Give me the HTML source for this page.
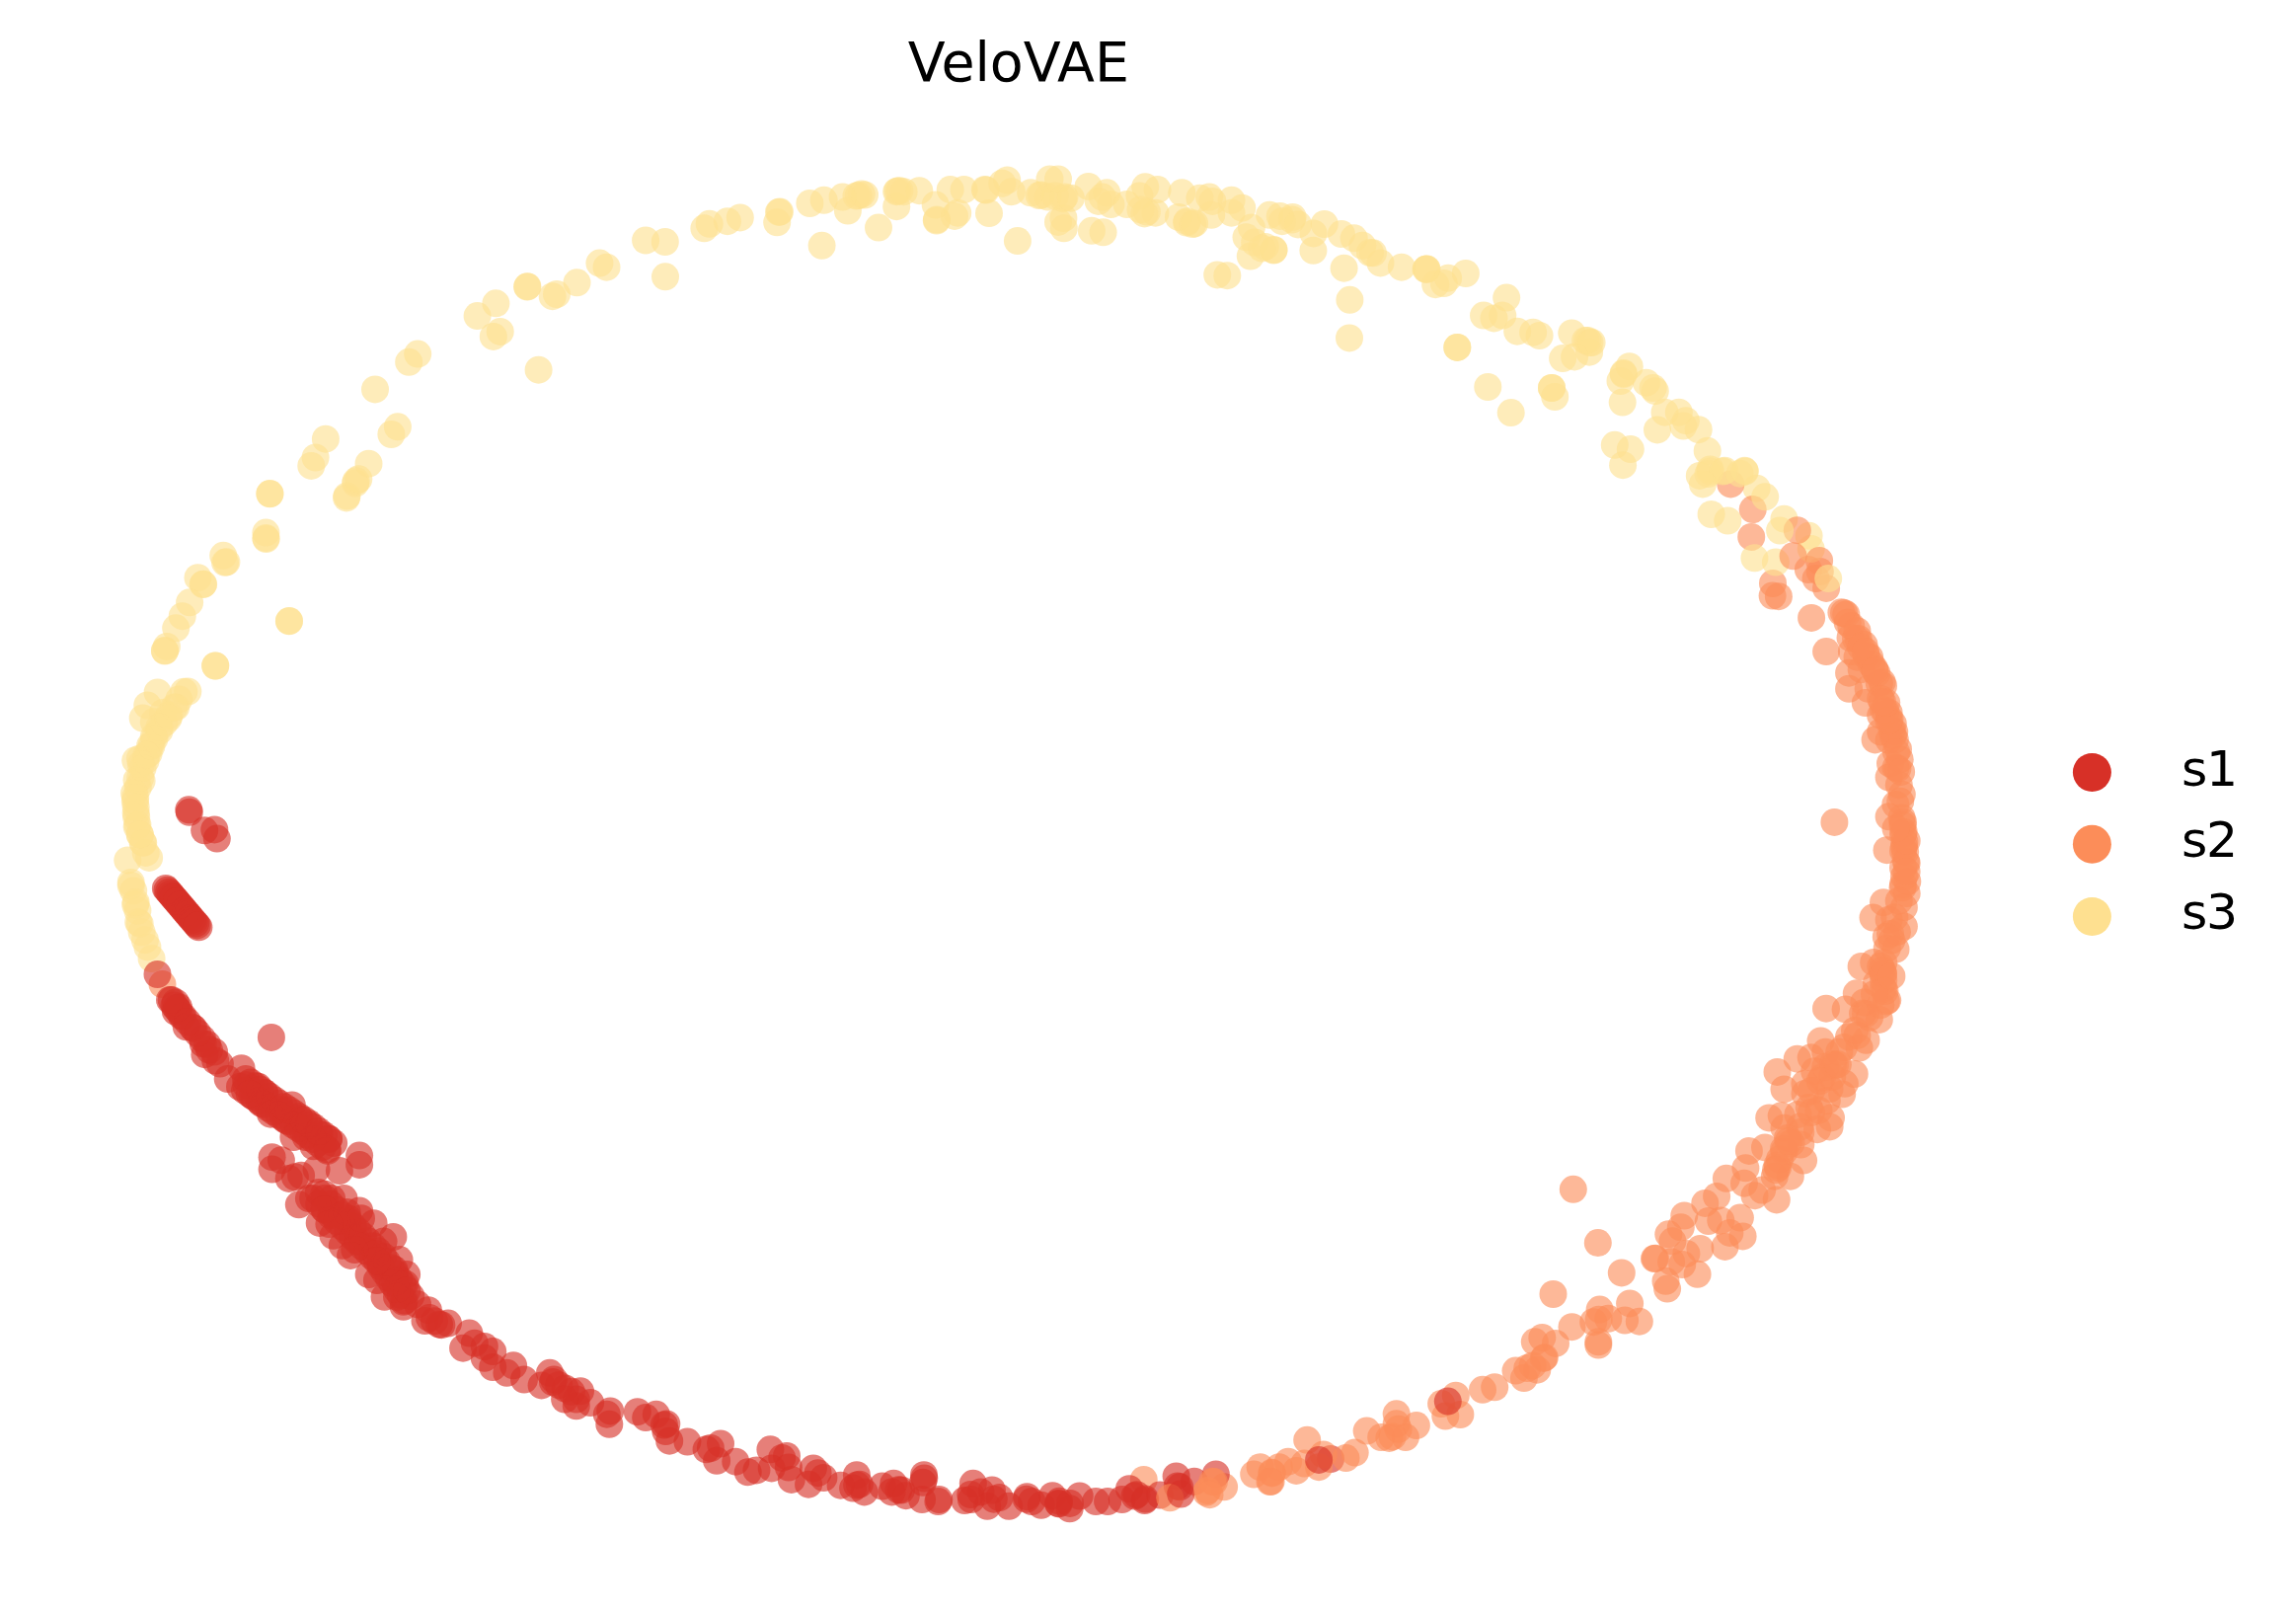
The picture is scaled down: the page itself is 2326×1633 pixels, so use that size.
<!DOCTYPE html>
<html><head><meta charset="utf-8"><title>VeloVAE</title>
<style>
html,body{margin:0;padding:0;background:#fff;}
body{width:2326px;height:1633px;overflow:hidden;position:relative;}
svg{position:absolute;left:0;top:0;}
.t{font-family:"DejaVu Sans","Liberation Sans",sans-serif;fill:#000;}
</style></head><body>
<svg width="2326" height="1633" viewBox="0 0 2326 1633">
<g fill-opacity="0.62">
<circle cx="149.4" cy="959.4" r="14.0" fill="#fee090"/>
<circle cx="153.6" cy="971.1" r="14.0" fill="#fee090"/>
<circle cx="146.9" cy="952.2" r="14.0" fill="#fee090"/>
<circle cx="164.5" cy="997.1" r="14.0" fill="#fc8d59"/>
<circle cx="1158.7" cy="1499.0" r="14.0" fill="#fc8d59"/>
<circle cx="311.9" cy="1149.9" r="14.0" fill="#d73027"/>
<circle cx="135.2" cy="902.4" r="14.0" fill="#fee090"/>
<circle cx="1924.7" cy="769.3" r="14.0" fill="#fc8d59"/>
<circle cx="1358.9" cy="237.1" r="14.0" fill="#fee090"/>
<circle cx="360.1" cy="489.6" r="14.0" fill="#fee090"/>
<circle cx="1928.0" cy="879.0" r="14.0" fill="#fc8d59"/>
<circle cx="1052.7" cy="198.1" r="14.0" fill="#fee090"/>
<circle cx="274.9" cy="1050.9" r="14.0" fill="#d73027"/>
<circle cx="1801.0" cy="1183.0" r="14.0" fill="#fc8d59"/>
<circle cx="1913.6" cy="721.9" r="14.0" fill="#fc8d59"/>
<circle cx="513.4" cy="1390.8" r="14.0" fill="#d73027"/>
<circle cx="352.6" cy="1234.2" r="14.0" fill="#d73027"/>
<circle cx="1779.6" cy="494.7" r="14.0" fill="#fee090"/>
<circle cx="1247.6" cy="202.8" r="14.0" fill="#fee090"/>
<circle cx="183.9" cy="918.7" r="14.0" fill="#d73027"/>
<circle cx="1797.8" cy="1191.7" r="14.0" fill="#fc8d59"/>
<circle cx="1855.0" cy="1132.4" r="14.0" fill="#fc8d59"/>
<circle cx="993.5" cy="1511.4" r="14.0" fill="#d73027"/>
<circle cx="1172.6" cy="192.1" r="14.0" fill="#fee090"/>
<circle cx="380.0" cy="394.4" r="14.0" fill="#fee090"/>
<circle cx="207.4" cy="1068.2" r="14.0" fill="#d73027"/>
<circle cx="1804.7" cy="1130.3" r="14.0" fill="#fc8d59"/>
<circle cx="178.2" cy="716.4" r="14.0" fill="#fee090"/>
<circle cx="409.7" cy="1317.5" r="14.0" fill="#d73027"/>
<circle cx="1072.0" cy="1522.9" r="14.0" fill="#d73027"/>
<circle cx="868.1" cy="1504.6" r="14.0" fill="#d73027"/>
<circle cx="1834.7" cy="1071.3" r="14.0" fill="#fc8d59"/>
<circle cx="312.9" cy="1214.1" r="14.0" fill="#d73027"/>
<circle cx="1209.9" cy="1500.8" r="14.0" fill="#d73027"/>
<circle cx="1693.1" cy="1278.2" r="14.0" fill="#fc8d59"/>
<circle cx="1125.5" cy="207.1" r="14.0" fill="#fee090"/>
<circle cx="1729.7" cy="456.8" r="14.0" fill="#fee090"/>
<circle cx="433.9" cy="1327.2" r="14.0" fill="#d73027"/>
<circle cx="1276.6" cy="1486.2" r="14.0" fill="#fc8d59"/>
<circle cx="1503.0" cy="319.6" r="14.0" fill="#fee090"/>
<circle cx="749.8" cy="220.4" r="14.0" fill="#fee090"/>
<circle cx="1650.7" cy="371.2" r="14.0" fill="#fee090"/>
<circle cx="1850.8" cy="1115.0" r="14.0" fill="#fc8d59"/>
<circle cx="1694.4" cy="1257.3" r="14.0" fill="#fc8d59"/>
<circle cx="1191.6" cy="1495.4" r="14.0" fill="#d73027"/>
<circle cx="864.1" cy="1507.6" r="14.0" fill="#d73027"/>
<circle cx="674.0" cy="280.3" r="14.0" fill="#fee090"/>
<circle cx="1030.9" cy="244.1" r="14.0" fill="#fee090"/>
<circle cx="136.9" cy="811.9" r="14.0" fill="#fee090"/>
<circle cx="207.2" cy="841.3" r="14.0" fill="#d73027"/>
<circle cx="1930.1" cy="863.0" r="14.0" fill="#fc8d59"/>
<circle cx="781.7" cy="1487.4" r="14.0" fill="#d73027"/>
<circle cx="1371.7" cy="241.3" r="14.0" fill="#fee090"/>
<circle cx="1348.0" cy="1478.0" r="14.0" fill="#d73027"/>
<circle cx="828.6" cy="1492.2" r="14.0" fill="#d73027"/>
<circle cx="1646.1" cy="1337.5" r="14.0" fill="#fc8d59"/>
<circle cx="385.3" cy="1280.3" r="14.0" fill="#d73027"/>
<circle cx="1159.6" cy="1520.1" r="14.0" fill="#d73027"/>
<circle cx="181.0" cy="1020.2" r="14.0" fill="#d73027"/>
<circle cx="1853.5" cy="1103.0" r="14.0" fill="#fc8d59"/>
<circle cx="268.4" cy="1107.3" r="14.0" fill="#d73027"/>
<circle cx="1807.0" cy="1163.8" r="14.0" fill="#fc8d59"/>
<circle cx="1651.8" cy="455.1" r="14.0" fill="#fee090"/>
<circle cx="335.2" cy="1231.3" r="14.0" fill="#d73027"/>
<circle cx="1800.5" cy="1180.5" r="14.0" fill="#fc8d59"/>
<circle cx="1002.0" cy="216.1" r="14.0" fill="#fee090"/>
<circle cx="1908.0" cy="695.0" r="14.0" fill="#fc8d59"/>
<circle cx="545.6" cy="374.7" r="14.0" fill="#fee090"/>
<circle cx="1796.0" cy="591.0" r="14.0" fill="#fc8d59"/>
<circle cx="908.2" cy="209.2" r="14.0" fill="#fee090"/>
<circle cx="1305.0" cy="1480.7" r="14.0" fill="#fc8d59"/>
<circle cx="908.2" cy="194.2" r="14.0" fill="#fee090"/>
<circle cx="317.5" cy="1161.3" r="14.0" fill="#d73027"/>
<circle cx="934.1" cy="1519.1" r="14.0" fill="#d73027"/>
<circle cx="910.4" cy="1509.3" r="14.0" fill="#d73027"/>
<circle cx="1462.8" cy="287.1" r="14.0" fill="#fee090"/>
<circle cx="423.0" cy="1321.3" r="14.0" fill="#d73027"/>
<circle cx="1040.4" cy="1516.2" r="14.0" fill="#d73027"/>
<circle cx="1788.0" cy="1162.4" r="14.0" fill="#fc8d59"/>
<circle cx="1831.9" cy="577.0" r="14.0" fill="#fc8d59"/>
<circle cx="137.2" cy="770.3" r="14.0" fill="#fee090"/>
<circle cx="423.2" cy="358.6" r="14.0" fill="#fee090"/>
<circle cx="1906.7" cy="691.0" r="14.0" fill="#fc8d59"/>
<circle cx="1054.9" cy="197.5" r="14.0" fill="#fee090"/>
<circle cx="757.7" cy="1491.3" r="14.0" fill="#d73027"/>
<circle cx="1869.6" cy="1022.4" r="14.0" fill="#fc8d59"/>
<circle cx="1928.9" cy="857.3" r="14.0" fill="#fc8d59"/>
<circle cx="1105.9" cy="233.8" r="14.0" fill="#fee090"/>
<circle cx="1739.1" cy="1211.9" r="14.0" fill="#fc8d59"/>
<circle cx="298.9" cy="1192.3" r="14.0" fill="#d73027"/>
<circle cx="318.1" cy="1142.1" r="14.0" fill="#d73027"/>
<circle cx="200.5" cy="585.2" r="14.0" fill="#fee090"/>
<circle cx="226.2" cy="562.8" r="14.0" fill="#fee090"/>
<circle cx="1839.6" cy="586.1" r="14.0" fill="#fc8d59"/>
<circle cx="389.5" cy="1313.8" r="14.0" fill="#d73027"/>
<circle cx="321.9" cy="1157.9" r="14.0" fill="#d73027"/>
<circle cx="1919.2" cy="741.4" r="14.0" fill="#fc8d59"/>
<circle cx="150.6" cy="763.2" r="14.0" fill="#fee090"/>
<circle cx="1170.5" cy="215.7" r="14.0" fill="#fee090"/>
<circle cx="1842.4" cy="1124.7" r="14.0" fill="#fc8d59"/>
<circle cx="618.2" cy="1429.4" r="14.0" fill="#d73027"/>
<circle cx="1916.6" cy="739.8" r="14.0" fill="#fc8d59"/>
<circle cx="1308.8" cy="222.5" r="14.0" fill="#fee090"/>
<circle cx="1313.2" cy="1489.9" r="14.0" fill="#fc8d59"/>
<circle cx="1266.8" cy="259.5" r="14.0" fill="#fee090"/>
<circle cx="1873.1" cy="697.8" r="14.0" fill="#fc8d59"/>
<circle cx="306.9" cy="1145.9" r="14.0" fill="#d73027"/>
<circle cx="534.1" cy="290.6" r="14.0" fill="#fee090"/>
<circle cx="598.1" cy="1421.0" r="14.0" fill="#d73027"/>
<circle cx="143.6" cy="791.0" r="14.0" fill="#fee090"/>
<circle cx="393.7" cy="1294.5" r="14.0" fill="#d73027"/>
<circle cx="1870.3" cy="622.4" r="14.0" fill="#fc8d59"/>
<circle cx="1878.7" cy="1088.0" r="14.0" fill="#fc8d59"/>
<circle cx="1894.0" cy="1030.8" r="14.0" fill="#fc8d59"/>
<circle cx="404.6" cy="1276.1" r="14.0" fill="#d73027"/>
<circle cx="1883.6" cy="1061.5" r="14.0" fill="#fc8d59"/>
<circle cx="1202.1" cy="225.5" r="14.0" fill="#fee090"/>
<circle cx="1240.1" cy="1506.3" r="14.0" fill="#fc8d59"/>
<circle cx="152.1" cy="755.5" r="14.0" fill="#fee090"/>
<circle cx="1502.0" cy="1407.8" r="14.0" fill="#fc8d59"/>
<circle cx="1093.7" cy="1515.5" r="14.0" fill="#d73027"/>
<circle cx="249.0" cy="1093.0" r="14.0" fill="#d73027"/>
<circle cx="696.4" cy="1460.6" r="14.0" fill="#d73027"/>
<circle cx="1141.6" cy="207.1" r="14.0" fill="#fee090"/>
<circle cx="1913.6" cy="931.7" r="14.0" fill="#fc8d59"/>
<circle cx="1887.0" cy="1026.6" r="14.0" fill="#fc8d59"/>
<circle cx="167.9" cy="899.9" r="14.0" fill="#d73027"/>
<circle cx="1923.0" cy="759.0" r="14.0" fill="#fc8d59"/>
<circle cx="257.6" cy="1111.7" r="14.0" fill="#d73027"/>
<circle cx="1846.0" cy="1091.5" r="14.0" fill="#fc8d59"/>
<circle cx="719.9" cy="1467.0" r="14.0" fill="#d73027"/>
<circle cx="139.7" cy="798.0" r="14.0" fill="#fee090"/>
<circle cx="1361.6" cy="271.7" r="14.0" fill="#fee090"/>
<circle cx="141.9" cy="768.4" r="14.0" fill="#fee090"/>
<circle cx="949.0" cy="222.5" r="14.0" fill="#fee090"/>
<circle cx="1922.4" cy="778.6" r="14.0" fill="#fc8d59"/>
<circle cx="217.3" cy="840.4" r="14.0" fill="#d73027"/>
<circle cx="292.2" cy="1136.2" r="14.0" fill="#d73027"/>
<circle cx="1915.0" cy="946.0" r="14.0" fill="#fc8d59"/>
<circle cx="337.5" cy="1251.8" r="14.0" fill="#d73027"/>
<circle cx="935.0" cy="1501.8" r="14.0" fill="#d73027"/>
<circle cx="797.0" cy="1475.0" r="14.0" fill="#d73027"/>
<circle cx="1006.8" cy="1518.7" r="14.0" fill="#d73027"/>
<circle cx="1573.5" cy="1311.0" r="14.0" fill="#fc8d59"/>
<circle cx="1925.2" cy="811.8" r="14.0" fill="#fc8d59"/>
<circle cx="142.1" cy="788.0" r="14.0" fill="#fee090"/>
<circle cx="1444.5" cy="272.8" r="14.0" fill="#fee090"/>
<circle cx="962.7" cy="192.1" r="14.0" fill="#fee090"/>
<circle cx="1363.5" cy="1477.1" r="14.0" fill="#fc8d59"/>
<circle cx="1643.7" cy="407.6" r="14.0" fill="#fee090"/>
<circle cx="1917.8" cy="733.1" r="14.0" fill="#fc8d59"/>
<circle cx="1686.5" cy="417.7" r="14.0" fill="#fee090"/>
<circle cx="144.6" cy="853.5" r="14.0" fill="#fee090"/>
<circle cx="186.3" cy="700.7" r="14.0" fill="#fee090"/>
<circle cx="1221.8" cy="1511.8" r="14.0" fill="#fc8d59"/>
<circle cx="1912.2" cy="1013.3" r="14.0" fill="#fc8d59"/>
<circle cx="1012.6" cy="1517.1" r="14.0" fill="#d73027"/>
<circle cx="1732.5" cy="475.4" r="14.0" fill="#fee090"/>
<circle cx="1843.8" cy="579.1" r="14.0" fill="#fc8d59"/>
<circle cx="454.0" cy="1340.6" r="14.0" fill="#d73027"/>
<circle cx="499.2" cy="1369.1" r="14.0" fill="#d73027"/>
<circle cx="1309.6" cy="219.9" r="14.0" fill="#fee090"/>
<circle cx="1194.0" cy="219.9" r="14.0" fill="#fee090"/>
<circle cx="400.3" cy="1290.0" r="14.0" fill="#d73027"/>
<circle cx="138.5" cy="790.2" r="14.0" fill="#fee090"/>
<circle cx="172.7" cy="905.5" r="14.0" fill="#d73027"/>
<circle cx="261.7" cy="1100.8" r="14.0" fill="#d73027"/>
<circle cx="997.8" cy="192.0" r="14.0" fill="#fee090"/>
<circle cx="1722.4" cy="1265.0" r="14.0" fill="#fc8d59"/>
<circle cx="396.4" cy="440.0" r="14.0" fill="#fee090"/>
<circle cx="181.0" cy="1024.0" r="14.0" fill="#d73027"/>
<circle cx="1054.8" cy="1524.8" r="14.0" fill="#d73027"/>
<circle cx="1281.8" cy="249.9" r="14.0" fill="#fee090"/>
<circle cx="490.8" cy="1375.8" r="14.0" fill="#d73027"/>
<circle cx="869.8" cy="198.1" r="14.0" fill="#fee090"/>
<circle cx="673.8" cy="245.0" r="14.0" fill="#fee090"/>
<circle cx="191.8" cy="822.8" r="14.0" fill="#d73027"/>
<circle cx="1286.1" cy="217.8" r="14.0" fill="#fee090"/>
<circle cx="1635.8" cy="450.8" r="14.0" fill="#fee090"/>
<circle cx="137.2" cy="807.9" r="14.0" fill="#fee090"/>
<circle cx="1868.0" cy="621.0" r="14.0" fill="#fc8d59"/>
<circle cx="1927.5" cy="899.2" r="14.0" fill="#fc8d59"/>
<circle cx="1856.2" cy="1091.0" r="14.0" fill="#fc8d59"/>
<circle cx="351.5" cy="502.5" r="14.0" fill="#fee090"/>
<circle cx="132.7" cy="894.0" r="14.0" fill="#fee090"/>
<circle cx="1928.0" cy="833.0" r="14.0" fill="#fc8d59"/>
<circle cx="184.1" cy="1029.5" r="14.0" fill="#d73027"/>
<circle cx="191.8" cy="928.0" r="14.0" fill="#d73027"/>
<circle cx="357.8" cy="1242.2" r="14.0" fill="#d73027"/>
<circle cx="253.8" cy="1096.5" r="14.0" fill="#d73027"/>
<circle cx="1464.3" cy="1434.6" r="14.0" fill="#fc8d59"/>
<circle cx="1641.5" cy="386.0" r="14.0" fill="#fee090"/>
<circle cx="1844.5" cy="1054.5" r="14.0" fill="#fc8d59"/>
<circle cx="1707.9" cy="426.2" r="14.0" fill="#fee090"/>
<circle cx="1149.5" cy="1515.5" r="14.0" fill="#d73027"/>
<circle cx="1747.5" cy="1262.9" r="14.0" fill="#fc8d59"/>
<circle cx="328.1" cy="1150.1" r="14.0" fill="#d73027"/>
<circle cx="1228.3" cy="203.9" r="14.0" fill="#fee090"/>
<circle cx="480.8" cy="1360.7" r="14.0" fill="#d73027"/>
<circle cx="1667.9" cy="387.7" r="14.0" fill="#fee090"/>
<circle cx="1911.5" cy="861.2" r="14.0" fill="#fc8d59"/>
<circle cx="1136.7" cy="1519.1" r="14.0" fill="#d73027"/>
<circle cx="1192.8" cy="1505.5" r="14.0" fill="#d73027"/>
<circle cx="247.9" cy="1104.6" r="14.0" fill="#d73027"/>
<circle cx="1921.9" cy="944.2" r="14.0" fill="#fc8d59"/>
<circle cx="745.3" cy="1480.7" r="14.0" fill="#d73027"/>
<circle cx="867.5" cy="198.5" r="14.0" fill="#fee090"/>
<circle cx="289.6" cy="1134.9" r="14.0" fill="#d73027"/>
<circle cx="147.6" cy="770.6" r="14.0" fill="#fee090"/>
<circle cx="388.3" cy="1272.7" r="14.0" fill="#d73027"/>
<circle cx="1750.3" cy="527.5" r="14.0" fill="#fee090"/>
<circle cx="1832.7" cy="1121.9" r="14.0" fill="#fc8d59"/>
<circle cx="381.9" cy="1297.0" r="14.0" fill="#d73027"/>
<circle cx="1927.5" cy="835.7" r="14.0" fill="#fc8d59"/>
<circle cx="1871.7" cy="630.8" r="14.0" fill="#fc8d59"/>
<circle cx="445.0" cy="1341.7" r="14.0" fill="#d73027"/>
<circle cx="1897.5" cy="929.6" r="14.0" fill="#fc8d59"/>
<circle cx="1835.1" cy="625.9" r="14.0" fill="#fc8d59"/>
<circle cx="1838.2" cy="1085.2" r="14.0" fill="#fc8d59"/>
<circle cx="909.4" cy="193.5" r="14.0" fill="#fee090"/>
<circle cx="1288.5" cy="1491.7" r="14.0" fill="#fc8d59"/>
<circle cx="1522.3" cy="319.6" r="14.0" fill="#fee090"/>
<circle cx="1850.0" cy="1021.7" r="14.0" fill="#fc8d59"/>
<circle cx="983.3" cy="1514.0" r="14.0" fill="#d73027"/>
<circle cx="201.4" cy="939.3" r="14.0" fill="#d73027"/>
<circle cx="1642.8" cy="1289.4" r="14.0" fill="#fc8d59"/>
<circle cx="1674.7" cy="393.0" r="14.0" fill="#fee090"/>
<circle cx="382.8" cy="1267.2" r="14.0" fill="#d73027"/>
<circle cx="372.8" cy="1257.2" r="14.0" fill="#d73027"/>
<circle cx="408.7" cy="1318.8" r="14.0" fill="#d73027"/>
<circle cx="1929.4" cy="853.0" r="14.0" fill="#fc8d59"/>
<circle cx="1910.8" cy="1014.5" r="14.0" fill="#fc8d59"/>
<circle cx="1905.2" cy="741.4" r="14.0" fill="#fc8d59"/>
<circle cx="1905.2" cy="724.7" r="14.0" fill="#fc8d59"/>
<circle cx="1073.1" cy="1520.7" r="14.0" fill="#d73027"/>
<circle cx="1849.3" cy="1081.0" r="14.0" fill="#fc8d59"/>
<circle cx="1916.4" cy="952.6" r="14.0" fill="#fc8d59"/>
<circle cx="1932.3" cy="893.0" r="14.0" fill="#fc8d59"/>
<circle cx="1151.5" cy="1514.2" r="14.0" fill="#d73027"/>
<circle cx="1367.0" cy="342.4" r="14.0" fill="#fee090"/>
<circle cx="1881.5" cy="665.7" r="14.0" fill="#fc8d59"/>
<circle cx="1267.9" cy="230.6" r="14.0" fill="#fee090"/>
<circle cx="303.6" cy="1133.4" r="14.0" fill="#d73027"/>
<circle cx="1917.8" cy="745.2" r="14.0" fill="#fc8d59"/>
<circle cx="389.7" cy="1288.8" r="14.0" fill="#d73027"/>
<circle cx="674.4" cy="1450.1" r="14.0" fill="#d73027"/>
<circle cx="1885.6" cy="979.1" r="14.0" fill="#fc8d59"/>
<circle cx="1835.0" cy="1127.0" r="14.0" fill="#fc8d59"/>
<circle cx="654.1" cy="243.5" r="14.0" fill="#fee090"/>
<circle cx="338.1" cy="1158.1" r="14.0" fill="#d73027"/>
<circle cx="654.2" cy="1436.1" r="14.0" fill="#d73027"/>
<circle cx="936.3" cy="1497.6" r="14.0" fill="#d73027"/>
<circle cx="198.2" cy="935.5" r="14.0" fill="#d73027"/>
<circle cx="1398.5" cy="266.4" r="14.0" fill="#fee090"/>
<circle cx="718.7" cy="226.8" r="14.0" fill="#fee090"/>
<circle cx="1928.0" cy="862.0" r="14.0" fill="#fc8d59"/>
<circle cx="1753.3" cy="490.4" r="14.0" fill="#fc8d59"/>
<circle cx="559.7" cy="300.2" r="14.0" fill="#fee090"/>
<circle cx="1824.3" cy="1159.6" r="14.0" fill="#fc8d59"/>
<circle cx="352.8" cy="1237.2" r="14.0" fill="#d73027"/>
<circle cx="352.2" cy="1247.8" r="14.0" fill="#d73027"/>
<circle cx="168.9" cy="654.9" r="14.0" fill="#fee090"/>
<circle cx="1061.8" cy="199.6" r="14.0" fill="#fee090"/>
<circle cx="1832.6" cy="542.8" r="14.0" fill="#fee090"/>
<circle cx="180.7" cy="914.9" r="14.0" fill="#d73027"/>
<circle cx="297.8" cy="1127.8" r="14.0" fill="#d73027"/>
<circle cx="1195.2" cy="1506.3" r="14.0" fill="#d73027"/>
<circle cx="1888.4" cy="1015.4" r="14.0" fill="#fc8d59"/>
<circle cx="346.8" cy="1261.8" r="14.0" fill="#d73027"/>
<circle cx="210.0" cy="1058.0" r="14.0" fill="#d73027"/>
<circle cx="1798.9" cy="569.6" r="14.0" fill="#fee090"/>
<circle cx="1775.7" cy="516.1" r="14.0" fill="#fc8d59"/>
<circle cx="1880.0" cy="647.0" r="14.0" fill="#fc8d59"/>
<circle cx="506.7" cy="335.9" r="14.0" fill="#fee090"/>
<circle cx="1774.2" cy="543.9" r="14.0" fill="#fc8d59"/>
<circle cx="1928.9" cy="919.1" r="14.0" fill="#fc8d59"/>
<circle cx="1801.9" cy="604.2" r="14.0" fill="#fc8d59"/>
<circle cx="475.4" cy="1350.6" r="14.0" fill="#d73027"/>
<circle cx="1644.1" cy="471.2" r="14.0" fill="#fee090"/>
<circle cx="267.9" cy="1107.0" r="14.0" fill="#d73027"/>
<circle cx="875.6" cy="1511.4" r="14.0" fill="#d73027"/>
<circle cx="1063.5" cy="181.4" r="14.0" fill="#fee090"/>
<circle cx="1899.0" cy="677.5" r="14.0" fill="#fc8d59"/>
<circle cx="1116.7" cy="199.6" r="14.0" fill="#fee090"/>
<circle cx="1290.5" cy="253.0" r="14.0" fill="#fee090"/>
<circle cx="1243.3" cy="279.2" r="14.0" fill="#fee090"/>
<circle cx="1388.0" cy="256.0" r="14.0" fill="#fee090"/>
<circle cx="1706.3" cy="1231.5" r="14.0" fill="#fc8d59"/>
<circle cx="1202.6" cy="224.2" r="14.0" fill="#fee090"/>
<circle cx="1677.0" cy="1274.8" r="14.0" fill="#fc8d59"/>
<circle cx="913.0" cy="1509.5" r="14.0" fill="#d73027"/>
<circle cx="1747.3" cy="476.8" r="14.0" fill="#fee090"/>
<circle cx="320.6" cy="1184.6" r="14.0" fill="#d73027"/>
<circle cx="1732.5" cy="477.6" r="14.0" fill="#fee090"/>
<circle cx="255.5" cy="1110.1" r="14.0" fill="#d73027"/>
<circle cx="404.3" cy="1295.7" r="14.0" fill="#d73027"/>
<circle cx="1592.3" cy="337.4" r="14.0" fill="#fee090"/>
<circle cx="309.8" cy="1152.0" r="14.0" fill="#d73027"/>
<circle cx="177.5" cy="911.2" r="14.0" fill="#d73027"/>
<circle cx="1926.6" cy="828.4" r="14.0" fill="#fc8d59"/>
<circle cx="1445.3" cy="272.5" r="14.0" fill="#fee090"/>
<circle cx="1651.1" cy="1320.4" r="14.0" fill="#fc8d59"/>
<circle cx="614.5" cy="270.7" r="14.0" fill="#fee090"/>
<circle cx="132.7" cy="897.1" r="14.0" fill="#fee090"/>
<circle cx="858.9" cy="213.5" r="14.0" fill="#fee090"/>
<circle cx="792.2" cy="1476.9" r="14.0" fill="#d73027"/>
<circle cx="520.1" cy="1383.3" r="14.0" fill="#d73027"/>
<circle cx="142.8" cy="774.1" r="14.0" fill="#fee090"/>
<circle cx="167.0" cy="659.6" r="14.0" fill="#fee090"/>
<circle cx="1930.9" cy="873.0" r="14.0" fill="#fc8d59"/>
<circle cx="405.7" cy="1311.8" r="14.0" fill="#d73027"/>
<circle cx="1875.3" cy="634.0" r="14.0" fill="#fc8d59"/>
<circle cx="388.6" cy="1257.6" r="14.0" fill="#d73027"/>
<circle cx="1295.8" cy="1486.2" r="14.0" fill="#fc8d59"/>
<circle cx="1676" cy="1275" r="14.0" fill="#fc8d59"/>
<circle cx="1514.2" cy="1405.3" r="14.0" fill="#fc8d59"/>
<circle cx="1733.6" cy="521.0" r="14.0" fill="#fee090"/>
<circle cx="675.3" cy="1442.4" r="14.0" fill="#d73027"/>
<circle cx="264.8" cy="1117.9" r="14.0" fill="#d73027"/>
<circle cx="469.1" cy="1365.7" r="14.0" fill="#d73027"/>
<circle cx="364.1" cy="1170.6" r="14.0" fill="#d73027"/>
<circle cx="1298.9" cy="224.2" r="14.0" fill="#fee090"/>
<circle cx="1928.0" cy="845.0" r="14.0" fill="#fc8d59"/>
<circle cx="362.2" cy="1257.8" r="14.0" fill="#d73027"/>
<circle cx="1610.5" cy="347.0" r="14.0" fill="#fee090"/>
<circle cx="377.2" cy="1272.8" r="14.0" fill="#d73027"/>
<circle cx="1721.8" cy="481.9" r="14.0" fill="#fee090"/>
<circle cx="430.5" cy="1338.1" r="14.0" fill="#d73027"/>
<circle cx="1576.0" cy="1360.9" r="14.0" fill="#fc8d59"/>
<circle cx="1928.7" cy="843.0" r="14.0" fill="#fc8d59"/>
<circle cx="1592.5" cy="1344.2" r="14.0" fill="#fc8d59"/>
<circle cx="1730.7" cy="1237.1" r="14.0" fill="#fc8d59"/>
<circle cx="412.1" cy="1291.1" r="14.0" fill="#d73027"/>
<circle cx="1700.8" cy="417.7" r="14.0" fill="#fee090"/>
<circle cx="385.7" cy="1283.0" r="14.0" fill="#d73027"/>
<circle cx="1454.2" cy="288.2" r="14.0" fill="#fee090"/>
<circle cx="410.4" cy="1300.4" r="14.0" fill="#d73027"/>
<circle cx="1849.3" cy="1065.7" r="14.0" fill="#fc8d59"/>
<circle cx="1777.5" cy="1211.2" r="14.0" fill="#fc8d59"/>
<circle cx="1160.2" cy="189.3" r="14.0" fill="#fee090"/>
<circle cx="1296.8" cy="218.9" r="14.0" fill="#fee090"/>
<circle cx="362.8" cy="1247.2" r="14.0" fill="#d73027"/>
<circle cx="185.4" cy="920.5" r="14.0" fill="#d73027"/>
<circle cx="1262.5" cy="240.3" r="14.0" fill="#fee090"/>
<circle cx="977.2" cy="1520.0" r="14.0" fill="#d73027"/>
<circle cx="145.2" cy="853.8" r="14.0" fill="#fee090"/>
<circle cx="872.8" cy="196.6" r="14.0" fill="#fee090"/>
<circle cx="1414.7" cy="1432.3" r="14.0" fill="#fc8d59"/>
<circle cx="399.5" cy="1286.1" r="14.0" fill="#d73027"/>
<circle cx="976.6" cy="192.1" r="14.0" fill="#fee090"/>
<circle cx="1225.1" cy="199.6" r="14.0" fill="#fee090"/>
<circle cx="1154.4" cy="198.5" r="14.0" fill="#fee090"/>
<circle cx="1908.0" cy="719.1" r="14.0" fill="#fc8d59"/>
<circle cx="1879.0" cy="1044.0" r="14.0" fill="#fc8d59"/>
<circle cx="1161.9" cy="214.6" r="14.0" fill="#fee090"/>
<circle cx="1880.8" cy="1006.3" r="14.0" fill="#fc8d59"/>
<circle cx="1414.7" cy="1442.3" r="14.0" fill="#fc8d59"/>
<circle cx="396.3" cy="1284.2" r="14.0" fill="#d73027"/>
<circle cx="1460.1" cy="1422.1" r="14.0" fill="#fc8d59"/>
<circle cx="1890.7" cy="664.3" r="14.0" fill="#fc8d59"/>
<circle cx="1159.4" cy="216.4" r="14.0" fill="#fee090"/>
<circle cx="397.7" cy="1300.3" r="14.0" fill="#d73027"/>
<circle cx="1913.6" cy="749.8" r="14.0" fill="#fc8d59"/>
<circle cx="1215.4" cy="200.7" r="14.0" fill="#fee090"/>
<circle cx="1899.6" cy="749.4" r="14.0" fill="#fc8d59"/>
<circle cx="1859.0" cy="1079.0" r="14.0" fill="#fc8d59"/>
<circle cx="1881.5" cy="1048.9" r="14.0" fill="#fc8d59"/>
<circle cx="1907.0" cy="983.0" r="14.0" fill="#fc8d59"/>
<circle cx="911.4" cy="193.2" r="14.0" fill="#fee090"/>
<circle cx="408.7" cy="1323.8" r="14.0" fill="#d73027"/>
<circle cx="222.9" cy="1077.6" r="14.0" fill="#d73027"/>
<circle cx="1850.1" cy="595.9" r="14.0" fill="#fc8d59"/>
<circle cx="174.3" cy="907.4" r="14.0" fill="#d73027"/>
<circle cx="1762.9" cy="1233.6" r="14.0" fill="#fc8d59"/>
<circle cx="1874.5" cy="646.1" r="14.0" fill="#fc8d59"/>
<circle cx="292.7" cy="1193.9" r="14.0" fill="#d73027"/>
<circle cx="1834.7" cy="556.1" r="14.0" fill="#fee090"/>
<circle cx="1340.7" cy="1473.4" r="14.0" fill="#fc8d59"/>
<circle cx="1708.4" cy="1269.9" r="14.0" fill="#fc8d59"/>
<circle cx="187.0" cy="922.4" r="14.0" fill="#d73027"/>
<circle cx="284.9" cy="1175.3" r="14.0" fill="#d73027"/>
<circle cx="302.8" cy="1220.3" r="14.0" fill="#d73027"/>
<circle cx="1175.1" cy="1514.6" r="14.0" fill="#d73027"/>
<circle cx="1730.6" cy="480.1" r="14.0" fill="#fee090"/>
<circle cx="876.0" cy="197.5" r="14.0" fill="#fee090"/>
<circle cx="1233.2" cy="278.4" r="14.0" fill="#fee090"/>
<circle cx="715.6" cy="1468.3" r="14.0" fill="#d73027"/>
<circle cx="548.6" cy="1403.4" r="14.0" fill="#d73027"/>
<circle cx="1792.2" cy="1132.4" r="14.0" fill="#fc8d59"/>
<circle cx="1608.4" cy="344.9" r="14.0" fill="#fee090"/>
<circle cx="1083.7" cy="1528.3" r="14.0" fill="#d73027"/>
<circle cx="1208.2" cy="227.1" r="14.0" fill="#fee090"/>
<circle cx="1144.0" cy="1508.2" r="14.0" fill="#d73027"/>
<circle cx="1821.5" cy="1128.9" r="14.0" fill="#fc8d59"/>
<circle cx="140.2" cy="934.2" r="14.0" fill="#fee090"/>
<circle cx="137.7" cy="823.7" r="14.0" fill="#fee090"/>
<circle cx="190.2" cy="926.2" r="14.0" fill="#d73027"/>
<circle cx="357.2" cy="1252.8" r="14.0" fill="#d73027"/>
<circle cx="1820.7" cy="1072.7" r="14.0" fill="#fc8d59"/>
<circle cx="870.8" cy="1503.7" r="14.0" fill="#d73027"/>
<circle cx="678.2" cy="1459.7" r="14.0" fill="#d73027"/>
<circle cx="273.4" cy="500.3" r="14.0" fill="#fee090"/>
<circle cx="1857.0" cy="1078.0" r="14.0" fill="#fc8d59"/>
<circle cx="1705.3" cy="431.6" r="14.0" fill="#fee090"/>
<circle cx="1748.9" cy="1193.8" r="14.0" fill="#fc8d59"/>
<circle cx="1676.8" cy="396.2" r="14.0" fill="#fee090"/>
<circle cx="1372.7" cy="1471.6" r="14.0" fill="#fc8d59"/>
<circle cx="1908.0" cy="1001.5" r="14.0" fill="#fc8d59"/>
<circle cx="340.8" cy="1225.5" r="14.0" fill="#d73027"/>
<circle cx="1044.2" cy="195.3" r="14.0" fill="#fee090"/>
<circle cx="169.5" cy="901.8" r="14.0" fill="#d73027"/>
<circle cx="588.0" cy="1409.3" r="14.0" fill="#d73027"/>
<circle cx="1816.6" cy="563.3" r="14.0" fill="#fc8d59"/>
<circle cx="319.6" cy="463.5" r="14.0" fill="#fee090"/>
<circle cx="177.9" cy="1024.8" r="14.0" fill="#d73027"/>
<circle cx="178.2" cy="636.3" r="14.0" fill="#fee090"/>
<circle cx="1564.8" cy="1375.2" r="14.0" fill="#fc8d59"/>
<circle cx="171.1" cy="903.7" r="14.0" fill="#d73027"/>
<circle cx="1000.2" cy="1525.8" r="14.0" fill="#d73027"/>
<circle cx="175.9" cy="909.3" r="14.0" fill="#d73027"/>
<circle cx="1914.5" cy="728.5" r="14.0" fill="#fc8d59"/>
<circle cx="398.4" cy="1253.0" r="14.0" fill="#d73027"/>
<circle cx="295.8" cy="1119.4" r="14.0" fill="#d73027"/>
<circle cx="205.7" cy="592.1" r="14.0" fill="#fee090"/>
<circle cx="1467.1" cy="281.7" r="14.0" fill="#fee090"/>
<circle cx="277.2" cy="1126.2" r="14.0" fill="#d73027"/>
<circle cx="1905.2" cy="979.1" r="14.0" fill="#fc8d59"/>
<circle cx="483.6" cy="320.1" r="14.0" fill="#fee090"/>
<circle cx="218.2" cy="1074.5" r="14.0" fill="#d73027"/>
<circle cx="284.9" cy="1124.1" r="14.0" fill="#d73027"/>
<circle cx="893.8" cy="1505.6" r="14.0" fill="#d73027"/>
<circle cx="149.3" cy="714.5" r="14.0" fill="#fee090"/>
<circle cx="1843.8" cy="1095.0" r="14.0" fill="#fc8d59"/>
<circle cx="1807.5" cy="1166.6" r="14.0" fill="#fc8d59"/>
<circle cx="273.4" cy="500.0" r="14.0" fill="#fee090"/>
<circle cx="1231.8" cy="1493.5" r="14.0" fill="#d73027"/>
<circle cx="1020.2" cy="182.5" r="14.0" fill="#fee090"/>
<circle cx="258.7" cy="1100.1" r="14.0" fill="#d73027"/>
<circle cx="1894.1" cy="665.7" r="14.0" fill="#fc8d59"/>
<circle cx="801.8" cy="1498.9" r="14.0" fill="#d73027"/>
<circle cx="1828.4" cy="1097.8" r="14.0" fill="#fc8d59"/>
<circle cx="1066.3" cy="1515.2" r="14.0" fill="#d73027"/>
<circle cx="1547.2" cy="1386.1" r="14.0" fill="#fc8d59"/>
<circle cx="138.7" cy="837.6" r="14.0" fill="#fee090"/>
<circle cx="905.3" cy="1502.8" r="14.0" fill="#d73027"/>
<circle cx="230.7" cy="1093.1" r="14.0" fill="#d73027"/>
<circle cx="155.8" cy="746.1" r="14.0" fill="#fee090"/>
<circle cx="1072.7" cy="1523.4" r="14.0" fill="#d73027"/>
<circle cx="1803.0" cy="1174.5" r="14.0" fill="#fc8d59"/>
<circle cx="153.5" cy="755.8" r="14.0" fill="#fee090"/>
<circle cx="262.5" cy="1115.3" r="14.0" fill="#d73027"/>
<circle cx="141.7" cy="935.8" r="14.0" fill="#fee090"/>
<circle cx="950.4" cy="1521.1" r="14.0" fill="#d73027"/>
<circle cx="129.3" cy="871.4" r="14.0" fill="#fee090"/>
<circle cx="1807.4" cy="525.7" r="14.0" fill="#fee090"/>
<circle cx="373.5" cy="469.7" r="14.0" fill="#fee090"/>
<circle cx="531.0" cy="1397.5" r="14.0" fill="#d73027"/>
<circle cx="1077.4" cy="221.0" r="14.0" fill="#fee090"/>
<circle cx="1926.8" cy="804.7" r="14.0" fill="#fc8d59"/>
<circle cx="1367.4" cy="303.8" r="14.0" fill="#fee090"/>
<circle cx="1913.6" cy="787.5" r="14.0" fill="#fc8d59"/>
<circle cx="867.9" cy="1494.2" r="14.0" fill="#d73027"/>
<circle cx="372.2" cy="1267.8" r="14.0" fill="#d73027"/>
<circle cx="1727.3" cy="1218.9" r="14.0" fill="#fc8d59"/>
<circle cx="205.0" cy="1052.2" r="14.0" fill="#d73027"/>
<circle cx="1572.0" cy="393.0" r="14.0" fill="#fee090"/>
<circle cx="1866.2" cy="1108.6" r="14.0" fill="#fc8d59"/>
<circle cx="1391.0" cy="256.3" r="14.0" fill="#fee090"/>
<circle cx="139.4" cy="835.4" r="14.0" fill="#fee090"/>
<circle cx="402.9" cy="432.3" r="14.0" fill="#fee090"/>
<circle cx="1919.8" cy="749.4" r="14.0" fill="#fc8d59"/>
<circle cx="1915.0" cy="773.5" r="14.0" fill="#fc8d59"/>
<circle cx="1384.6" cy="1449.6" r="14.0" fill="#fc8d59"/>
<circle cx="1920.5" cy="777.7" r="14.0" fill="#fc8d59"/>
<circle cx="1767.8" cy="477.6" r="14.0" fill="#fee090"/>
<circle cx="312.9" cy="1139.6" r="14.0" fill="#d73027"/>
<circle cx="664.8" cy="1432.8" r="14.0" fill="#d73027"/>
<circle cx="336.1" cy="1229.6" r="14.0" fill="#d73027"/>
<circle cx="1882.7" cy="647.0" r="14.0" fill="#fc8d59"/>
<circle cx="1850.1" cy="660.1" r="14.0" fill="#fc8d59"/>
<circle cx="440.0" cy="1338.3" r="14.0" fill="#d73027"/>
<circle cx="1913.6" cy="827.3" r="14.0" fill="#fc8d59"/>
<circle cx="499.2" cy="1385.0" r="14.0" fill="#d73027"/>
<circle cx="1719.6" cy="1290.8" r="14.0" fill="#fc8d59"/>
<circle cx="323.2" cy="1219.7" r="14.0" fill="#d73027"/>
<circle cx="851.6" cy="1504.7" r="14.0" fill="#d73027"/>
<circle cx="1620.6" cy="1326.6" r="14.0" fill="#fc8d59"/>
<circle cx="343.9" cy="1186.1" r="14.0" fill="#d73027"/>
<circle cx="1896.0" cy="673.0" r="14.0" fill="#fc8d59"/>
<circle cx="780.4" cy="1468.3" r="14.0" fill="#d73027"/>
<circle cx="1619.3" cy="1362.6" r="14.0" fill="#fc8d59"/>
<circle cx="1702.8" cy="1243.3" r="14.0" fill="#fc8d59"/>
<circle cx="1928.9" cy="938.6" r="14.0" fill="#fc8d59"/>
<circle cx="273.2" cy="1110.8" r="14.0" fill="#d73027"/>
<circle cx="322.8" cy="1208.1" r="14.0" fill="#d73027"/>
<circle cx="1247.6" cy="215.7" r="14.0" fill="#fee090"/>
<circle cx="1771.9" cy="1165.9" r="14.0" fill="#fc8d59"/>
<circle cx="890.0" cy="230.6" r="14.0" fill="#fee090"/>
<circle cx="823.9" cy="1487.4" r="14.0" fill="#d73027"/>
<circle cx="1873.1" cy="681.7" r="14.0" fill="#fc8d59"/>
<circle cx="1228.2" cy="1500.8" r="14.0" fill="#fc8d59"/>
<circle cx="1287.6" cy="1500.8" r="14.0" fill="#fc8d59"/>
<circle cx="305.1" cy="1190.8" r="14.0" fill="#d73027"/>
<circle cx="1824.3" cy="1147.0" r="14.0" fill="#fc8d59"/>
<circle cx="534.4" cy="290.2" r="14.0" fill="#fee090"/>
<circle cx="1078.5" cy="199.6" r="14.0" fill="#fee090"/>
<circle cx="1920.3" cy="815.0" r="14.0" fill="#fc8d59"/>
<circle cx="1777.4" cy="565.3" r="14.0" fill="#fee090"/>
<circle cx="1271.1" cy="245.6" r="14.0" fill="#fee090"/>
<circle cx="1610.1" cy="356.7" r="14.0" fill="#fee090"/>
<circle cx="1865.4" cy="620.3" r="14.0" fill="#fc8d59"/>
<circle cx="1901.3" cy="682.0" r="14.0" fill="#fc8d59"/>
<circle cx="1823.5" cy="1141.5" r="14.0" fill="#fc8d59"/>
<circle cx="1892.7" cy="697.8" r="14.0" fill="#fc8d59"/>
<circle cx="1619.3" cy="1359.3" r="14.0" fill="#fc8d59"/>
<circle cx="1903.8" cy="692.2" r="14.0" fill="#fc8d59"/>
<circle cx="181.3" cy="708.6" r="14.0" fill="#fee090"/>
<circle cx="1117.6" cy="235.3" r="14.0" fill="#fee090"/>
<circle cx="155.8" cy="731.3" r="14.0" fill="#fee090"/>
<circle cx="1745.3" cy="477.6" r="14.0" fill="#fee090"/>
<circle cx="1689.1" cy="1305.6" r="14.0" fill="#fc8d59"/>
<circle cx="334.8" cy="1219.7" r="14.0" fill="#d73027"/>
<circle cx="323.7" cy="1148.9" r="14.0" fill="#d73027"/>
<circle cx="1227.2" cy="217.8" r="14.0" fill="#fee090"/>
<circle cx="196.6" cy="933.7" r="14.0" fill="#d73027"/>
<circle cx="205.8" cy="1057.4" r="14.0" fill="#d73027"/>
<circle cx="1121.3" cy="195.3" r="14.0" fill="#fee090"/>
<circle cx="364.1" cy="1226.5" r="14.0" fill="#d73027"/>
<circle cx="1077.1" cy="201.2" r="14.0" fill="#fee090"/>
<circle cx="948.8" cy="223.6" r="14.0" fill="#fee090"/>
<circle cx="1559.6" cy="340.0" r="14.0" fill="#fee090"/>
<circle cx="1024.9" cy="194.2" r="14.0" fill="#fee090"/>
<circle cx="502.4" cy="307.3" r="14.0" fill="#fee090"/>
<circle cx="1614.2" cy="1339.2" r="14.0" fill="#fc8d59"/>
<circle cx="1476.3" cy="351.9" r="14.0" fill="#fee090"/>
<circle cx="998.8" cy="192.5" r="14.0" fill="#fee090"/>
<circle cx="1045.2" cy="1521.0" r="14.0" fill="#d73027"/>
<circle cx="560.0" cy="1400.0" r="14.0" fill="#d73027"/>
<circle cx="272.2" cy="1122.5" r="14.0" fill="#d73027"/>
<circle cx="1903.8" cy="1032.9" r="14.0" fill="#fc8d59"/>
<circle cx="159.6" cy="701.5" r="14.0" fill="#fee090"/>
<circle cx="967.0" cy="218.9" r="14.0" fill="#fee090"/>
<circle cx="834.4" cy="1497.0" r="14.0" fill="#d73027"/>
<circle cx="244.6" cy="1082.2" r="14.0" fill="#d73027"/>
<circle cx="1928.0" cy="896.0" r="14.0" fill="#fc8d59"/>
<circle cx="1606.2" cy="344.9" r="14.0" fill="#fee090"/>
<circle cx="1828.5" cy="1107.9" r="14.0" fill="#fc8d59"/>
<circle cx="1901.0" cy="995.9" r="14.0" fill="#fc8d59"/>
<circle cx="173.7" cy="1013.0" r="14.0" fill="#d73027"/>
<circle cx="182.3" cy="916.8" r="14.0" fill="#d73027"/>
<circle cx="1513.5" cy="322.4" r="14.0" fill="#fee090"/>
<circle cx="1923.8" cy="795.2" r="14.0" fill="#fc8d59"/>
<circle cx="1931.7" cy="874.1" r="14.0" fill="#fc8d59"/>
<circle cx="1324.2" cy="1458.8" r="14.0" fill="#fc8d59"/>
<circle cx="317.2" cy="1213.9" r="14.0" fill="#d73027"/>
<circle cx="165.1" cy="722.0" r="14.0" fill="#fee090"/>
<circle cx="1873.1" cy="1050.3" r="14.0" fill="#fc8d59"/>
<circle cx="1553.1" cy="336.7" r="14.0" fill="#fee090"/>
<circle cx="188.6" cy="924.3" r="14.0" fill="#d73027"/>
<circle cx="1419.9" cy="270.7" r="14.0" fill="#fee090"/>
<circle cx="1015.3" cy="185.7" r="14.0" fill="#fee090"/>
<circle cx="206.1" cy="591.7" r="14.0" fill="#fee090"/>
<circle cx="151.1" cy="868.9" r="14.0" fill="#fee090"/>
<circle cx="323.7" cy="1238.9" r="14.0" fill="#d73027"/>
<circle cx="367.2" cy="1262.8" r="14.0" fill="#d73027"/>
<circle cx="278.1" cy="1114.4" r="14.0" fill="#d73027"/>
<circle cx="302.8" cy="1131.2" r="14.0" fill="#d73027"/>
<circle cx="333.0" cy="1153.6" r="14.0" fill="#d73027"/>
<circle cx="1843.1" cy="568.0" r="14.0" fill="#fc8d59"/>
<circle cx="185.5" cy="1029.5" r="14.0" fill="#d73027"/>
<circle cx="196.5" cy="1041.9" r="14.0" fill="#d73027"/>
<circle cx="1908.2" cy="993.5" r="14.0" fill="#fc8d59"/>
<circle cx="970.2" cy="215.7" r="14.0" fill="#fee090"/>
<circle cx="614.8" cy="1432.7" r="14.0" fill="#d73027"/>
<circle cx="1889.8" cy="712.1" r="14.0" fill="#fc8d59"/>
<circle cx="275.6" cy="1184.6" r="14.0" fill="#d73027"/>
<circle cx="832.6" cy="248.8" r="14.0" fill="#fee090"/>
<circle cx="1890.0" cy="1027.0" r="14.0" fill="#fc8d59"/>
<circle cx="1905.2" cy="1018.2" r="14.0" fill="#fc8d59"/>
<circle cx="1476.3" cy="351.9" r="14.0" fill="#fee090"/>
<circle cx="1813.8" cy="1191.7" r="14.0" fill="#fc8d59"/>
<circle cx="1112.7" cy="203.9" r="14.0" fill="#fee090"/>
<circle cx="1908.0" cy="914.2" r="14.0" fill="#fc8d59"/>
<circle cx="1423.9" cy="1456.0" r="14.0" fill="#fc8d59"/>
<circle cx="143.6" cy="944.3" r="14.0" fill="#fee090"/>
<circle cx="1768.4" cy="1183.3" r="14.0" fill="#fc8d59"/>
<circle cx="336.1" cy="1214.1" r="14.0" fill="#d73027"/>
<circle cx="333.1" cy="1154.1" r="14.0" fill="#d73027"/>
<circle cx="820.4" cy="206.0" r="14.0" fill="#fee090"/>
<circle cx="282.8" cy="1117.8" r="14.0" fill="#d73027"/>
<circle cx="416.3" cy="1313.0" r="14.0" fill="#d73027"/>
<circle cx="583.8" cy="1417.6" r="14.0" fill="#d73027"/>
<circle cx="275.6" cy="1172.2" r="14.0" fill="#d73027"/>
<circle cx="177.9" cy="1015.5" r="14.0" fill="#d73027"/>
<circle cx="499.8" cy="340.9" r="14.0" fill="#fee090"/>
<circle cx="1905.2" cy="707.9" r="14.0" fill="#fc8d59"/>
<circle cx="1160.2" cy="1518.6" r="14.0" fill="#d73027"/>
<circle cx="951.3" cy="1519.1" r="14.0" fill="#d73027"/>
<circle cx="1919.3" cy="929.3" r="14.0" fill="#fc8d59"/>
<circle cx="917.8" cy="1515.2" r="14.0" fill="#d73027"/>
<circle cx="193.4" cy="929.9" r="14.0" fill="#d73027"/>
<circle cx="1005.0" cy="1509.5" r="14.0" fill="#d73027"/>
<circle cx="1767.0" cy="1198.7" r="14.0" fill="#fc8d59"/>
<circle cx="983.9" cy="1519.1" r="14.0" fill="#d73027"/>
<circle cx="1399.2" cy="1456.0" r="14.0" fill="#fc8d59"/>
<circle cx="373.6" cy="1291.1" r="14.0" fill="#d73027"/>
<circle cx="1868.0" cy="1061.0" r="14.0" fill="#fc8d59"/>
<circle cx="328.4" cy="1209.4" r="14.0" fill="#d73027"/>
<circle cx="1921.0" cy="762.0" r="14.0" fill="#fc8d59"/>
<circle cx="161.5" cy="740.4" r="14.0" fill="#fee090"/>
<circle cx="1612.6" cy="347.0" r="14.0" fill="#fee090"/>
<circle cx="328.8" cy="1213.9" r="14.0" fill="#d73027"/>
<circle cx="1407.4" cy="1456.9" r="14.0" fill="#fc8d59"/>
<circle cx="1210.1" cy="226.4" r="14.0" fill="#fee090"/>
<circle cx="1434.9" cy="1444.1" r="14.0" fill="#fc8d59"/>
<circle cx="329.2" cy="1225.5" r="14.0" fill="#d73027"/>
<circle cx="1881.5" cy="639.2" r="14.0" fill="#fc8d59"/>
<circle cx="269.4" cy="545.1" r="14.0" fill="#fee090"/>
<circle cx="377.8" cy="1262.2" r="14.0" fill="#d73027"/>
<circle cx="1885.7" cy="678.2" r="14.0" fill="#fc8d59"/>
<circle cx="136.0" cy="803.6" r="14.0" fill="#fee090"/>
<circle cx="834.7" cy="202.8" r="14.0" fill="#fee090"/>
<circle cx="1526.2" cy="301.6" r="14.0" fill="#fee090"/>
<circle cx="1931.7" cy="905.1" r="14.0" fill="#fc8d59"/>
<circle cx="408.3" cy="1301.5" r="14.0" fill="#d73027"/>
<circle cx="447.3" cy="1342.2" r="14.0" fill="#d73027"/>
<circle cx="347.2" cy="1242.8" r="14.0" fill="#d73027"/>
<circle cx="1931.7" cy="851.7" r="14.0" fill="#fc8d59"/>
<circle cx="1762.5" cy="479.7" r="14.0" fill="#fee090"/>
<circle cx="1197.3" cy="195.3" r="14.0" fill="#fee090"/>
<circle cx="1820.8" cy="537.2" r="14.0" fill="#fc8d59"/>
<circle cx="557.0" cy="1390.8" r="14.0" fill="#d73027"/>
<circle cx="1858.4" cy="832.9" r="14.0" fill="#fc8d59"/>
<circle cx="1543.9" cy="1396.1" r="14.0" fill="#fc8d59"/>
<circle cx="1660.8" cy="1338.7" r="14.0" fill="#fc8d59"/>
<circle cx="316.9" cy="1153.9" r="14.0" fill="#d73027"/>
<circle cx="1315.0" cy="227.4" r="14.0" fill="#fee090"/>
<circle cx="138.2" cy="827.7" r="14.0" fill="#fee090"/>
<circle cx="583.8" cy="1424.3" r="14.0" fill="#d73027"/>
<circle cx="1875.9" cy="660.1" r="14.0" fill="#fc8d59"/>
<circle cx="1562.3" cy="1355.1" r="14.0" fill="#fc8d59"/>
<circle cx="1908.0" cy="986.1" r="14.0" fill="#fc8d59"/>
<circle cx="1445.3" cy="272.5" r="14.0" fill="#fee090"/>
<circle cx="1928.9" cy="888.0" r="14.0" fill="#fc8d59"/>
<circle cx="297.4" cy="1152.0" r="14.0" fill="#d73027"/>
<circle cx="1923.7" cy="912.7" r="14.0" fill="#fc8d59"/>
<circle cx="1595.1" cy="361.4" r="14.0" fill="#fee090"/>
<circle cx="789.0" cy="214.9" r="14.0" fill="#fee090"/>
<circle cx="713.4" cy="231.3" r="14.0" fill="#fee090"/>
<circle cx="1330.4" cy="253.8" r="14.0" fill="#fee090"/>
<circle cx="578.8" cy="1409.8" r="14.0" fill="#d73027"/>
<circle cx="1752.4" cy="1248.9" r="14.0" fill="#fc8d59"/>
<circle cx="1807.5" cy="1103.4" r="14.0" fill="#fc8d59"/>
<circle cx="435.0" cy="1335.0" r="14.0" fill="#d73027"/>
<circle cx="331.9" cy="1165.9" r="14.0" fill="#d73027"/>
<circle cx="1687.5" cy="1297.8" r="14.0" fill="#fc8d59"/>
<circle cx="1888.5" cy="653.1" r="14.0" fill="#fc8d59"/>
<circle cx="1185.2" cy="1517.3" r="14.0" fill="#fc8d59"/>
<circle cx="1795.6" cy="603.6" r="14.0" fill="#fc8d59"/>
<circle cx="1629.3" cy="1335.8" r="14.0" fill="#fc8d59"/>
<circle cx="176.5" cy="1018.5" r="14.0" fill="#d73027"/>
<circle cx="1799.0" cy="1185.2" r="14.0" fill="#fc8d59"/>
<circle cx="1743.3" cy="1236.4" r="14.0" fill="#fc8d59"/>
<circle cx="402.0" cy="1313.8" r="14.0" fill="#d73027"/>
<circle cx="287.2" cy="1132.8" r="14.0" fill="#d73027"/>
<circle cx="1890.5" cy="1053.8" r="14.0" fill="#fc8d59"/>
<circle cx="1811.0" cy="1153.0" r="14.0" fill="#fc8d59"/>
<circle cx="584.5" cy="286.3" r="14.0" fill="#fee090"/>
<circle cx="1068.8" cy="198.5" r="14.0" fill="#fee090"/>
<circle cx="367.8" cy="1252.2" r="14.0" fill="#d73027"/>
<circle cx="607.4" cy="266.6" r="14.0" fill="#fee090"/>
<circle cx="249.3" cy="1099.3" r="14.0" fill="#d73027"/>
<circle cx="228" cy="569.8" r="14.0" fill="#fee090"/>
<circle cx="217.0" cy="1065.5" r="14.0" fill="#d73027"/>
<circle cx="346.8" cy="1231.3" r="14.0" fill="#d73027"/>
<circle cx="1321.4" cy="1482.6" r="14.0" fill="#fc8d59"/>
<circle cx="380.3" cy="1270.2" r="14.0" fill="#d73027"/>
<circle cx="1535.5" cy="1388.6" r="14.0" fill="#fc8d59"/>
<circle cx="292.8" cy="1124.5" r="14.0" fill="#d73027"/>
<circle cx="1885.3" cy="655.7" r="14.0" fill="#fc8d59"/>
<circle cx="1072.0" cy="181.4" r="14.0" fill="#fee090"/>
<circle cx="1507.3" cy="392.0" r="14.0" fill="#fee090"/>
<circle cx="297.2" cy="1139.5" r="14.0" fill="#d73027"/>
<circle cx="144.7" cy="727.5" r="14.0" fill="#fee090"/>
<circle cx="263.5" cy="1103.7" r="14.0" fill="#d73027"/>
<circle cx="572.5" cy="1406.5" r="14.0" fill="#d73027"/>
<circle cx="137.2" cy="916.5" r="14.0" fill="#fee090"/>
<circle cx="1618.8" cy="1259.1" r="14.0" fill="#fc8d59"/>
<circle cx="192.1" cy="610.3" r="14.0" fill="#fee090"/>
<circle cx="1835.0" cy="1105.0" r="14.0" fill="#fc8d59"/>
<circle cx="329.9" cy="444.7" r="14.0" fill="#fee090"/>
<circle cx="1084.0" cy="1522.9" r="14.0" fill="#d73027"/>
<circle cx="219.8" cy="849.6" r="14.0" fill="#d73027"/>
<circle cx="1690.3" cy="1250.3" r="14.0" fill="#fc8d59"/>
<circle cx="328.4" cy="1224.9" r="14.0" fill="#d73027"/>
<circle cx="144.6" cy="778.1" r="14.0" fill="#fee090"/>
<circle cx="561.2" cy="1397.5" r="14.0" fill="#d73027"/>
<circle cx="156.5" cy="748.3" r="14.0" fill="#fee090"/>
<circle cx="218.2" cy="674.5" r="14.0" fill="#fee090"/>
<circle cx="302.2" cy="1142.8" r="14.0" fill="#d73027"/>
<circle cx="617.3" cy="1442.8" r="14.0" fill="#d73027"/>
<circle cx="1841.0" cy="1144.2" r="14.0" fill="#fc8d59"/>
<circle cx="166.4" cy="732.4" r="14.0" fill="#fee090"/>
<circle cx="267.3" cy="1118.9" r="14.0" fill="#d73027"/>
<circle cx="1330.6" cy="236.4" r="14.0" fill="#fee090"/>
<circle cx="179.1" cy="913.0" r="14.0" fill="#d73027"/>
<circle cx="401.7" cy="1306.0" r="14.0" fill="#d73027"/>
<circle cx="269.6" cy="546" r="14.0" fill="#fee090"/>
<circle cx="326.9" cy="1161.9" r="14.0" fill="#d73027"/>
<circle cx="171.4" cy="724.5" r="14.0" fill="#fee090"/>
<circle cx="348.5" cy="1214.1" r="14.0" fill="#d73027"/>
<circle cx="400.4" cy="1298.7" r="14.0" fill="#d73027"/>
<circle cx="1122.1" cy="1521.0" r="14.0" fill="#d73027"/>
<circle cx="167" cy="659" r="14.0" fill="#fee090"/>
<circle cx="1644.7" cy="378.1" r="14.0" fill="#fee090"/>
<circle cx="1270.2" cy="1493.5" r="14.0" fill="#fc8d59"/>
<circle cx="1593.8" cy="1204.8" r="14.0" fill="#fc8d59"/>
<circle cx="1479.4" cy="1433.0" r="14.0" fill="#fc8d59"/>
<circle cx="1644.7" cy="379.1" r="14.0" fill="#fee090"/>
<circle cx="566.2" cy="1403.2" r="14.0" fill="#d73027"/>
<circle cx="1725.0" cy="490.4" r="14.0" fill="#fee090"/>
<circle cx="1800.5" cy="1085.9" r="14.0" fill="#fc8d59"/>
<circle cx="243.0" cy="1101.0" r="14.0" fill="#d73027"/>
<circle cx="1785.2" cy="1205.6" r="14.0" fill="#fc8d59"/>
<circle cx="672.9" cy="1443.5" r="14.0" fill="#d73027"/>
<circle cx="1852.2" cy="586.1" r="14.0" fill="#fee090"/>
<circle cx="790.0" cy="214.6" r="14.0" fill="#fee090"/>
<circle cx="147.7" cy="863.9" r="14.0" fill="#fee090"/>
<circle cx="172.0" cy="1013.0" r="14.0" fill="#d73027"/>
<circle cx="1380.3" cy="248.8" r="14.0" fill="#fee090"/>
<circle cx="1155.5" cy="212.4" r="14.0" fill="#fee090"/>
<circle cx="414.2" cy="366.8" r="14.0" fill="#fee090"/>
<circle cx="1704.2" cy="1281.0" r="14.0" fill="#fc8d59"/>
<circle cx="351.0" cy="504.4" r="14.0" fill="#fee090"/>
<circle cx="1898.2" cy="974.9" r="14.0" fill="#fc8d59"/>
<circle cx="331.5" cy="1164.4" r="14.0" fill="#d73027"/>
<circle cx="1807.5" cy="1142.8" r="14.0" fill="#fc8d59"/>
<circle cx="1931.6" cy="883.0" r="14.0" fill="#fc8d59"/>
<circle cx="1557.3" cy="1387.7" r="14.0" fill="#fc8d59"/>
<circle cx="190.3" cy="700.5" r="14.0" fill="#fee090"/>
<circle cx="1908.0" cy="987.0" r="14.0" fill="#fc8d59"/>
<circle cx="1110.2" cy="1521.0" r="14.0" fill="#d73027"/>
<circle cx="947.7" cy="207.5" r="14.0" fill="#fee090"/>
<circle cx="252.8" cy="1108.2" r="14.0" fill="#d73027"/>
<circle cx="195.0" cy="1040.8" r="14.0" fill="#d73027"/>
<circle cx="931.3" cy="193.2" r="14.0" fill="#fee090"/>
<circle cx="1484.9" cy="277.0" r="14.0" fill="#fee090"/>
<circle cx="985.8" cy="1502.8" r="14.0" fill="#d73027"/>
<circle cx="292.9" cy="629.3" r="14.0" fill="#fee090"/>
<circle cx="1799.8" cy="1215.4" r="14.0" fill="#fc8d59"/>
<circle cx="564.0" cy="298.1" r="14.0" fill="#fee090"/>
<circle cx="1910.2" cy="720.6" r="14.0" fill="#fc8d59"/>
<circle cx="936.0" cy="1494.2" r="14.0" fill="#d73027"/>
<circle cx="1102.6" cy="188.9" r="14.0" fill="#fee090"/>
<circle cx="1416.6" cy="1447.8" r="14.0" fill="#fc8d59"/>
<circle cx="1258.3" cy="210.7" r="14.0" fill="#fee090"/>
<circle cx="212.0" cy="1063.6" r="14.0" fill="#d73027"/>
<circle cx="1913.4" cy="730.2" r="14.0" fill="#fc8d59"/>
<circle cx="188.8" cy="1040.3" r="14.0" fill="#d73027"/>
<circle cx="1084.9" cy="200.7" r="14.0" fill="#fee090"/>
<circle cx="1537.1" cy="335.7" r="14.0" fill="#fee090"/>
<circle cx="1827.1" cy="1175.6" r="14.0" fill="#fc8d59"/>
<circle cx="1868.9" cy="1097.8" r="14.0" fill="#fc8d59"/>
<circle cx="176.4" cy="716.6" r="14.0" fill="#fee090"/>
<circle cx="307.8" cy="1134.5" r="14.0" fill="#d73027"/>
<circle cx="1926.1" cy="781.9" r="14.0" fill="#fc8d59"/>
<circle cx="341.2" cy="1237.1" r="14.0" fill="#d73027"/>
<circle cx="1911.7" cy="960.7" r="14.0" fill="#fc8d59"/>
<circle cx="1341.7" cy="227.0" r="14.0" fill="#fee090"/>
<circle cx="195.0" cy="931.8" r="14.0" fill="#d73027"/>
<circle cx="199.8" cy="937.4" r="14.0" fill="#d73027"/>
<circle cx="139.4" cy="922.5" r="14.0" fill="#fee090"/>
<circle cx="1554.8" cy="1359.3" r="14.0" fill="#fc8d59"/>
<circle cx="1911.2" cy="711.8" r="14.0" fill="#fc8d59"/>
<circle cx="1803.1" cy="537.5" r="14.0" fill="#fee090"/>
<circle cx="1890.0" cy="660.0" r="14.0" fill="#fc8d59"/>
<circle cx="360.7" cy="487.3" r="14.0" fill="#fee090"/>
<circle cx="1909.5" cy="1004.0" r="14.0" fill="#fc8d59"/>
<circle cx="1814.5" cy="1158.2" r="14.0" fill="#fc8d59"/>
<circle cx="736.9" cy="224.2" r="14.0" fill="#fee090"/>
<circle cx="412.3" cy="1307.2" r="14.0" fill="#d73027"/>
<circle cx="1474.8" cy="1413.7" r="14.0" fill="#fc8d59"/>
<circle cx="1907.0" cy="711.0" r="14.0" fill="#fc8d59"/>
<circle cx="293.0" cy="628.9" r="14.0" fill="#fee090"/>
<circle cx="903.4" cy="1511.4" r="14.0" fill="#d73027"/>
<circle cx="218.2" cy="674.5" r="14.0" fill="#fee090"/>
<circle cx="141.9" cy="845.4" r="14.0" fill="#fee090"/>
<circle cx="1336.1" cy="1486.2" r="14.0" fill="#fc8d59"/>
<circle cx="269.4" cy="539.6" r="14.0" fill="#fee090"/>
<circle cx="730.0" cy="1462.5" r="14.0" fill="#d73027"/>
<circle cx="364.1" cy="1179.9" r="14.0" fill="#d73027"/>
<circle cx="1022.2" cy="1525.8" r="14.0" fill="#d73027"/>
<circle cx="1572.0" cy="393.0" r="14.0" fill="#fee090"/>
<circle cx="282.2" cy="1129.5" r="14.0" fill="#d73027"/>
<circle cx="572.1" cy="1417.6" r="14.0" fill="#d73027"/>
<circle cx="392.3" cy="1278.5" r="14.0" fill="#d73027"/>
<circle cx="1863.3" cy="1065.7" r="14.0" fill="#fc8d59"/>
<circle cx="1920.5" cy="839.2" r="14.0" fill="#fc8d59"/>
<circle cx="274.1" cy="1128.7" r="14.0" fill="#d73027"/>
<circle cx="1575.2" cy="402.0" r="14.0" fill="#fee090"/>
<circle cx="853.6" cy="199.6" r="14.0" fill="#fee090"/>
<circle cx="1290.4" cy="253.5" r="14.0" fill="#fee090"/>
<circle cx="1336.1" cy="1478.9" r="14.0" fill="#d73027"/>
<circle cx="1530.7" cy="418.1" r="14.0" fill="#fee090"/>
<circle cx="490.8" cy="1364.0" r="14.0" fill="#d73027"/>
<circle cx="229.4" cy="569.3" r="14.0" fill="#fee090"/>
<circle cx="1812.0" cy="1156.0" r="14.0" fill="#fc8d59"/>
<circle cx="798.9" cy="1486.5" r="14.0" fill="#d73027"/>
<circle cx="645.8" cy="1430.2" r="14.0" fill="#d73027"/>
<circle cx="1908.3" cy="975.3" r="14.0" fill="#fc8d59"/>
<circle cx="726.1" cy="1479.8" r="14.0" fill="#d73027"/>
<circle cx="1899.0" cy="1007.0" r="14.0" fill="#fc8d59"/>
<circle cx="148.4" cy="764.8" r="14.0" fill="#fee090"/>
<circle cx="378.6" cy="1239.2" r="14.0" fill="#d73027"/>
<circle cx="1853.6" cy="1141.4" r="14.0" fill="#fc8d59"/>
<circle cx="787.2" cy="225.3" r="14.0" fill="#fee090"/>
<circle cx="141.7" cy="845.5" r="14.0" fill="#fee090"/>
<circle cx="1765.6" cy="1252.4" r="14.0" fill="#fc8d59"/>
<circle cx="915.6" cy="194.2" r="14.0" fill="#fee090"/>
<circle cx="170.7" cy="727.5" r="14.0" fill="#fee090"/>
<circle cx="1039.8" cy="1518.7" r="14.0" fill="#d73027"/>
<circle cx="1788.2" cy="503.3" r="14.0" fill="#fee090"/>
<circle cx="1072.0" cy="224.9" r="14.0" fill="#fee090"/>
<circle cx="137.7" cy="817.8" r="14.0" fill="#fee090"/>
<circle cx="381.7" cy="1277.3" r="14.0" fill="#d73027"/>
<circle cx="363.3" cy="485.3" r="14.0" fill="#fee090"/>
<circle cx="1278.3" cy="251.5" r="14.0" fill="#fee090"/>
<circle cx="766.4" cy="1489.4" r="14.0" fill="#d73027"/>
<circle cx="351.6" cy="1228.0" r="14.0" fill="#d73027"/>
<circle cx="1679.0" cy="435.4" r="14.0" fill="#fee090"/>
<circle cx="313.1" cy="1138.1" r="14.0" fill="#d73027"/>
<circle cx="1910.8" cy="949.1" r="14.0" fill="#fc8d59"/>
<circle cx="1720.7" cy="435.2" r="14.0" fill="#fee090"/>
<circle cx="323.1" cy="1146.1" r="14.0" fill="#d73027"/>
<circle cx="819.1" cy="1503.7" r="14.0" fill="#d73027"/>
<circle cx="333.4" cy="1240.1" r="14.0" fill="#d73027"/>
<circle cx="159.5" cy="987.0" r="14.0" fill="#d73027"/>
<circle cx="137.7" cy="914.1" r="14.0" fill="#fee090"/>
<circle cx="359.3" cy="1266.0" r="14.0" fill="#d73027"/>
<circle cx="1767.5" cy="476.8" r="14.0" fill="#fee090"/>
<circle cx="1899.6" cy="679.6" r="14.0" fill="#fc8d59"/>
<circle cx="1920.5" cy="961.7" r="14.0" fill="#fc8d59"/>
<circle cx="178.7" cy="1021.4" r="14.0" fill="#d73027"/>
<circle cx="1861.9" cy="1078.2" r="14.0" fill="#fc8d59"/>
<circle cx="355.1" cy="1271.9" r="14.0" fill="#d73027"/>
<circle cx="315.3" cy="471.9" r="14.0" fill="#fee090"/>
<circle cx="200.0" cy="1046.5" r="14.0" fill="#d73027"/>
<circle cx="1077.8" cy="231.3" r="14.0" fill="#fee090"/>
<circle cx="184.7" cy="624.2" r="14.0" fill="#fee090"/>
<circle cx="287.8" cy="1121.2" r="14.0" fill="#d73027"/>
<circle cx="366.0" cy="1234.2" r="14.0" fill="#d73027"/>
<circle cx="190.0" cy="1035.0" r="14.0" fill="#d73027"/>
<circle cx="1196.2" cy="1513.6" r="14.0" fill="#d73027"/>
<circle cx="1583.1" cy="363.1" r="14.0" fill="#fee090"/>
<circle cx="191.3" cy="820.3" r="14.0" fill="#d73027"/>
<circle cx="161.4" cy="736.8" r="14.0" fill="#fee090"/>
<circle cx="1916.4" cy="988.9" r="14.0" fill="#fc8d59"/>
<circle cx="1223.3" cy="1509.9" r="14.0" fill="#fc8d59"/>
<circle cx="1229.9" cy="1501.1" r="14.0" fill="#fc8d59"/>
<circle cx="1225.5" cy="1514.2" r="14.0" fill="#fc8d59"/>
<circle cx="1288.7" cy="1492.4" r="14.0" fill="#fc8d59"/>
<circle cx="1286.5" cy="1501.1" r="14.0" fill="#fc8d59"/>
<circle cx="1410.6" cy="1455.4" r="14.0" fill="#fc8d59"/>
<circle cx="1552.6" cy="1383.4" r="14.0" fill="#fc8d59"/>
<circle cx="1563.8" cy="1375.9" r="14.0" fill="#fc8d59"/>
<circle cx="1619.6" cy="1336.8" r="14.0" fill="#fc8d59"/>
<circle cx="1466.8" cy="1419.6" r="14.0" fill="#d73027"/>
</g>
<text class="t" x="1031.9" y="82.2" font-size="55.4" text-anchor="middle">VeloVAE</text>
<circle cx="2119.4" cy="782.4" r="19.5" fill="#d73027"/>
<circle cx="2119.4" cy="855.3" r="19.5" fill="#fc8d59"/>
<circle cx="2119.4" cy="928.4" r="19.5" fill="#fee090"/>
<text class="t" x="2209.9" y="795.6" font-size="50.5" letter-spacing="-1.3">s1</text>
<text class="t" x="2209.9" y="867.6" font-size="50.5" letter-spacing="-1.3">s2</text>
<text class="t" x="2209.9" y="940.8" font-size="50.5" letter-spacing="-1.3">s3</text>
</svg>
</body></html>
